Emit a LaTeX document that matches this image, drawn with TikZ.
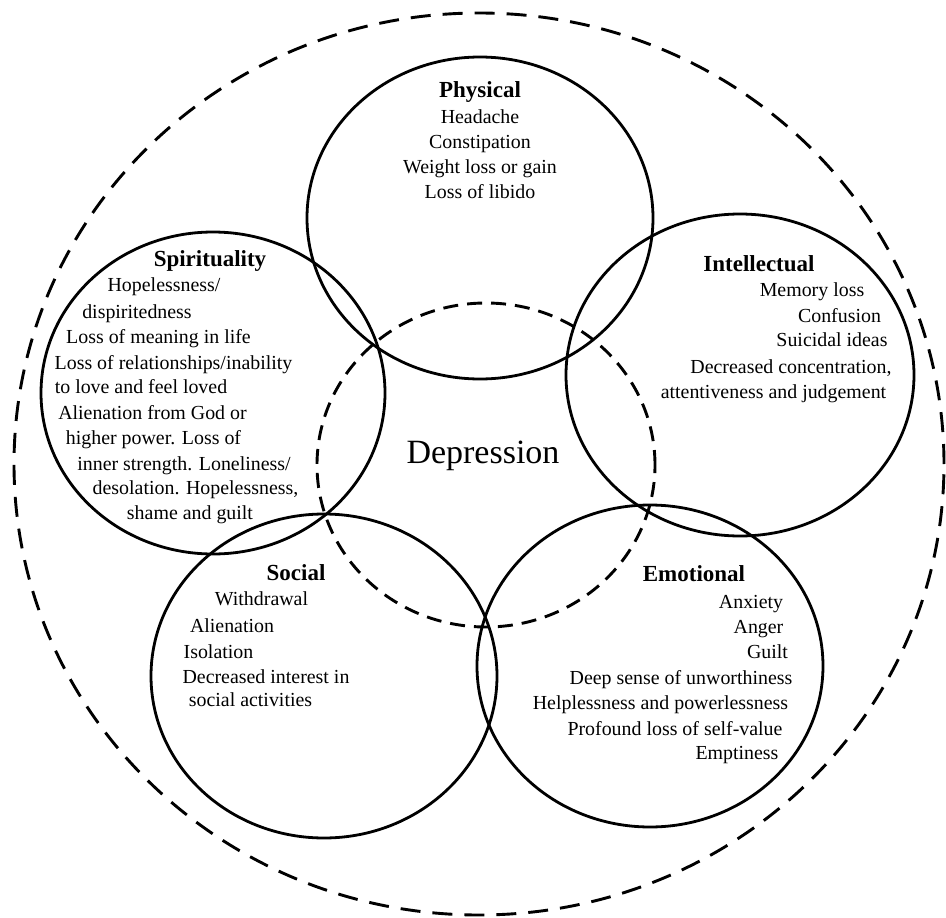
\documentclass[tikz,border=0pt]{standalone}
\usepackage{fontspec}
\setmainfont{Liberation Serif}
\begin{document}
\begin{tikzpicture}[x=1pt,y=-1pt,
  ring/.style={line width=2.8pt},
  outerdash/.style={line width=2.9pt,dash pattern=on 20pt off 12pt},
  innerdash/.style={line width=2.9pt,dash pattern=on 15pt off 9pt},
  ttl/.style={anchor=base,inner sep=0pt,font=\fontsize{23}{28}\selectfont\bfseries},
  itm/.style={anchor=base,inner sep=0pt,font=\fontsize{19.9}{25}\selectfont},
  big/.style={anchor=base,inner sep=0pt,font=\fontsize{34}{40}\selectfont}]
\fill[white] (0,0) rectangle (946,918);
\useasboundingbox (0,0) rectangle (946,918);
% outer and depression dashed
\draw[outerdash] (479,464) ellipse [x radius=465pt, y radius=451pt];
\draw[innerdash] (486,465) ellipse [x radius=169pt, y radius=162pt];
% five circles
\draw[ring] (480,218) ellipse [x radius=173pt, y radius=161pt];
\draw[ring] (213,393) ellipse [x radius=172pt, y radius=161pt];
\draw[ring] (740,375) ellipse [x radius=174pt, y radius=161pt];
\draw[ring] (324,676) ellipse [x radius=173pt, y radius=162pt];
\draw[ring] (650,666) ellipse [x radius=173pt, y radius=161pt];
% centre
\node[big] (dep) at (483,463) {Depression};
% Physical
\node[ttl] (p0) at (480,97) {Physical};
\node[itm] (p1) at (480,123) {Headache};
\node[itm] (p2) at (480,148) {Constipation};
\node[itm] (p3) at (480,173) {Weight loss or gain};
\node[itm] (p4) at (480,198) {Loss of libido};
% Spirituality
\node[ttl] (s0) at (210,266) {Spirituality};
\node[itm] (s1) at (164,291) {Hopelessness/};
\node[itm] (s2) at (137,318) {dispiritedness};
\node[itm] (s3) at (158.5,343) {Loss of meaning in life};
\node[itm] (s4) at (173.5,369) {Loss of relationships/inability};
\node[itm] (s5) at (141,393) {to love and feel loved};
\node[itm] (s6) at (152.5,419) {Alienation from God or};
\node[itm] (s7) at (153.5,444) {higher power. Loss of};
\node[itm] (s8) at (184,470) {inner strength. Loneliness/};
\node[itm] (s9) at (195.5,494) {desolation. Hopelessness,};
\node[itm] (s10) at (190,519) {shame and guilt};
% Intellectual
\node[ttl] (i0) at (759,271) {Intellectual};
\node[itm] (i1) at (812,296) {Memory loss};
\node[itm] (i2) at (839.5,322) {Confusion};
\node[itm] (i3) at (832,346) {Suicidal ideas};
\node[itm] (i4) at (791,373) {Decreased concentration,};
\node[itm] (i5) at (773.5,398) {attentiveness and judgement};
% Social
\node[ttl] (so0) at (296,580) {Social};
\node[itm] (so1) at (261.5,605) {Withdrawal};
\node[itm] (so2) at (232,632) {Alienation};
\node[itm] (so3) at (218.5,658) {Isolation};
\node[itm] (so4) at (266,683) {Decreased interest in};
\node[itm] (so5) at (250.5,706) {social activities};
% Emotional
\node[ttl] (e0) at (694,581) {Emotional};
\node[itm] (e1) at (751,608) {Anxiety};
\node[itm] (e2) at (758.5,633) {Anger};
\node[itm] (e3) at (767.5,658) {Guilt};
\node[itm] (e4) at (681,684) {Deep sense of unworthiness};
\node[itm] (e5) at (660.5,709) {Helplessness and powerlessness};
\node[itm] (e6) at (675,735) {Profound loss of self-value};
\node[itm] (e7) at (737,759) {Emptiness};
\end{tikzpicture}
\end{document}
